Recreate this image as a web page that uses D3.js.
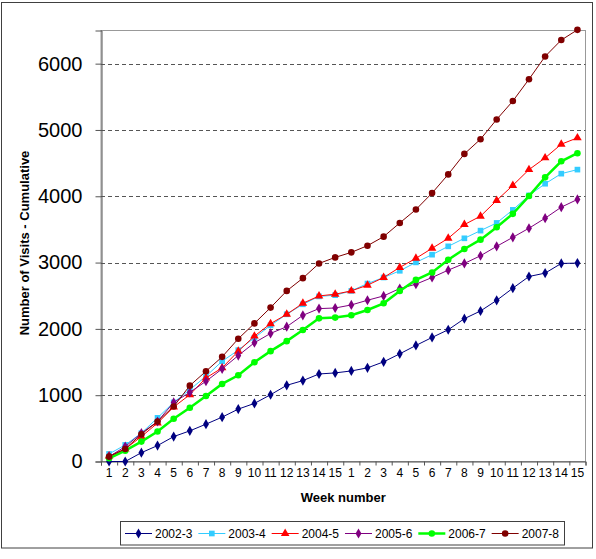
<!DOCTYPE html>
<html><head><meta charset="utf-8">
<script src="https://cdn.jsdelivr.net/npm/d3@7/dist/d3.min.js"></script>
<style>body{margin:0;background:#fff;}svg{display:block;font-family:"Liberation Sans",Arial,sans-serif;}</style>
</head><body>
<svg id="c" width="596" height="559"></svg>
<script>
const weeks = ["1","2","3","4","5","6","7","8","9","10","11","12","13","14","15","1","2","3","4","5","6","7","8","9","10","11","12","13","14","15"];
const s2002_3 = [0,0,133,240,376,462,563,669,790,876,1007,1149,1220,1320,1336,1366,1412,1503,1624,1750,1871,1987,2154,2270,2430,2614,2790,2841,2987,2992];
const s2003_4 = [114,250,427,659,891,1083,1285,1512,1679,1866,2053,2220,2371,2490,2508,2573,2684,2775,2876,3003,3119,3245,3366,3482,3598,3795,4013,4189,4341,4402];
const s2004_5 = [83,189,376,579,821,1008,1260,1412,1664,1891,2079,2220,2386,2497,2523,2573,2659,2775,2927,3064,3215,3366,3573,3700,3937,4164,4402,4579,4785,4881];
const s2005_6 = [73,225,427,603,891,1043,1210,1397,1598,1791,1932,2033,2205,2306,2315,2361,2432,2497,2609,2674,2775,2886,2987,3103,3245,3381,3518,3669,3836,3952];
const s2006_7 = [48,164,300,452,644,811,988,1170,1300,1497,1664,1815,1982,2159,2170,2205,2285,2386,2573,2739,2851,3043,3205,3346,3533,3735,4003,4285,4527,4649];
const s2007_8 = [73,189,412,603,830,1144,1361,1578,1851,2083,2321,2573,2765,2987,3078,3154,3255,3391,3598,3800,4048,4330,4639,4861,5159,5436,5765,6109,6356,6510];
const seriesNames = ["2002-3","2003-4","2004-5","2005-6","2006-7","2007-8"];
const yTicks = [0,1000,2000,3000,4000,5000,6000];

const series = [
  {name: seriesNames[0], values: s2002_3, color: "#000080", symbol: d3.symbolDiamond, size: 30, width: 1},
  {name: seriesNames[1], values: s2003_4, color: "#33CCFF", symbol: d3.symbolSquare, size: 32, width: 1},
  {name: seriesNames[2], values: s2004_5, color: "#FF0000", symbol: d3.symbolTriangle, size: 32, width: 1},
  {name: seriesNames[3], values: s2005_6, color: "#800080", symbol: d3.symbolDiamond, size: 30, width: 1},
  {name: seriesNames[4], values: s2006_7, color: "#00FF00", symbol: d3.symbolCircle, size: 34, width: 2.5},
  {name: seriesNames[5], values: s2007_8, color: "#800000", symbol: d3.symbolCircle, size: 34, width: 1}
];

const svg = d3.select("#c");
const L = 101, R = 585.5, T = 30.5, B = 461.5;

// outer chart border
svg.append("rect").attr("x",1.5).attr("y",2.5).attr("width",591).attr("height",545.5)
  .attr("fill","#fff").attr("stroke","#404040").attr("stroke-width",1);

const x = d3.scaleBand().domain(d3.range(weeks.length)).range([L, R]);
const xb = d3.scaleLinear().domain([0, weeks.length]).range([L, R]);
const y = d3.scaleLinear().domain([0, 6500]).range([B, T]);

// plot area border
svg.append("rect").attr("x",L).attr("y",T).attr("width",R-L).attr("height",B-T)
  .attr("fill","none").attr("stroke","#999").attr("stroke-width",1);

// gridlines
svg.append("g").selectAll("line").data(yTicks.filter(d=>d>0)).join("line")
  .attr("x1",L).attr("x2",R).attr("y1",d=>Math.round(y(d))+0.5).attr("y2",d=>Math.round(y(d))+0.5)
  .attr("stroke","#555").attr("stroke-dasharray","4,3").attr("stroke-width",1);

// y axis
const ya = svg.append("g").attr("transform",`translate(${L+0.5},0)`)
  .call(d3.axisLeft(y).tickValues(yTicks).tickSize(6).tickPadding(13).tickFormat(d3.format("d")));
ya.select(".domain").attr("stroke","#555");
ya.selectAll(".tick line").attr("stroke","#555");
ya.selectAll("text").attr("font-size","20px").attr("fill","#000").attr("font-family","'Liberation Sans',Arial,sans-serif");

// x axis: boundary ticks
const xt = svg.append("g").attr("transform",`translate(0,${B})`)
  .call(d3.axisBottom(xb).tickValues(d3.range(weeks.length+1)).tickSize(4).tickFormat(""));
xt.select(".domain").attr("stroke","#555");
xt.selectAll(".tick line").attr("stroke","#555");
// x labels
const xl = svg.append("g").attr("transform",`translate(0,${B})`)
  .call(d3.axisBottom(x).tickSize(0).tickPadding(7).tickFormat(i=>weeks[i]));
xl.select(".domain").remove();
xl.selectAll("text").attr("font-size","12px").attr("fill","#000").attr("font-family","'Liberation Sans',Arial,sans-serif");

// axis titles
svg.append("text").attr("x",(L+R)/2).attr("y",502).attr("text-anchor","middle")
  .attr("font-size","13px").attr("font-weight","bold").text("Week number");
svg.append("text").attr("transform",`translate(28.5,243) rotate(-90)`).attr("text-anchor","middle")
  .attr("font-size","13px").attr("font-weight","bold").text("Number of Visits - Cumulative");

// lines and markers
const line = d3.line().x((d,i)=>x(i)+x.bandwidth()/2).y(d=>y(d));
series.forEach(s=>{
  const g = svg.append("g");
  g.append("path").datum(s.values).attr("d",line).attr("fill","none")
    .attr("stroke",s.color).attr("stroke-width",s.width);
  g.selectAll("path.m").data(s.values).join("path").attr("class","m")
    .attr("transform",(d,i)=>`translate(${x(i)+x.bandwidth()/2},${y(d)})`)
    .attr("d",d3.symbol().type(s.symbol).size(s.size)).attr("fill",s.color);
});

// legend
const lg = svg.append("g");
lg.append("rect").attr("x",120.5).attr("y",521.5).attr("width",444).attr("height",23.5)
  .attr("fill","#fff").attr("stroke","#404040");
const lx = d3.scalePoint().domain(seriesNames).range([155, 155+73.33*5]);
series.forEach(s=>{
  const tx = lx(s.name), cy = 533.5;
  lg.append("line").attr("x1",tx-30).attr("x2",tx-3).attr("y1",cy).attr("y2",cy)
    .attr("stroke",s.color).attr("stroke-width",s.width);
  lg.append("path").attr("transform",`translate(${tx-16.5},${cy})`)
    .attr("d",d3.symbol().type(s.symbol).size(s.size)).attr("fill",s.color);
  lg.append("text").attr("x",tx).attr("y",cy+4.3).attr("font-size","12px").text(s.name);
});
</script>
</body></html>
